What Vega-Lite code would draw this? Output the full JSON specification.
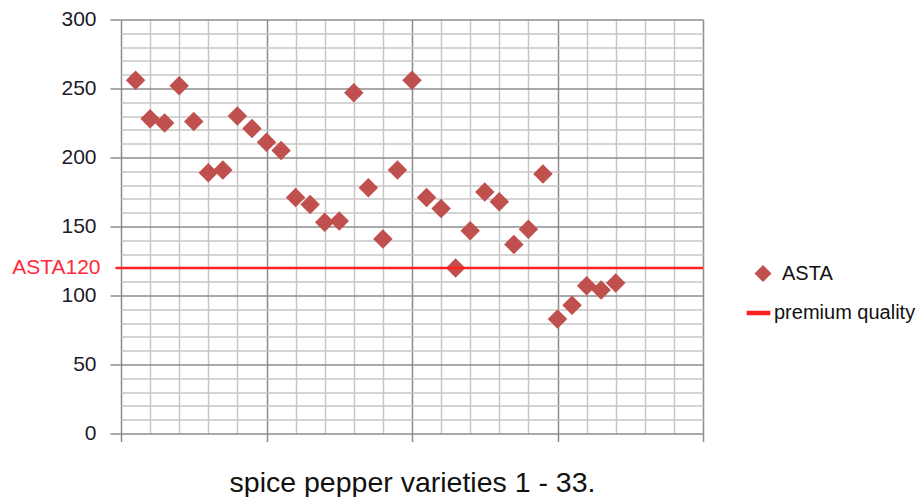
{
  "$schema": "https://vega.github.io/schema/vega-lite/v6.json",
  "width": 582,
  "height": 414,
  "autosize": {"type": "none"},
  "padding": {"left": 121, "top": 19.5, "right": 215, "bottom": 63.5},
  "background": "white",
  "config": {
    "view": {"stroke": null},
    "font": "Liberation Sans"
  },
  "resolve": {"legend": {"color": "independent", "shape": "independent"}},
  "datasets": {
    "asta": [
      {"variety": 1, "asta": 256, "series": "ASTA"},
      {"variety": 2, "asta": 228, "series": "ASTA"},
      {"variety": 3, "asta": 225, "series": "ASTA"},
      {"variety": 4, "asta": 252, "series": "ASTA"},
      {"variety": 5, "asta": 226, "series": "ASTA"},
      {"variety": 6, "asta": 189, "series": "ASTA"},
      {"variety": 7, "asta": 191, "series": "ASTA"},
      {"variety": 8, "asta": 230, "series": "ASTA"},
      {"variety": 9, "asta": 221, "series": "ASTA"},
      {"variety": 10, "asta": 211, "series": "ASTA"},
      {"variety": 11, "asta": 205, "series": "ASTA"},
      {"variety": 12, "asta": 171, "series": "ASTA"},
      {"variety": 13, "asta": 166, "series": "ASTA"},
      {"variety": 14, "asta": 153, "series": "ASTA"},
      {"variety": 15, "asta": 154, "series": "ASTA"},
      {"variety": 16, "asta": 247, "series": "ASTA"},
      {"variety": 17, "asta": 178, "series": "ASTA"},
      {"variety": 18, "asta": 141, "series": "ASTA"},
      {"variety": 19, "asta": 191, "series": "ASTA"},
      {"variety": 20, "asta": 256, "series": "ASTA"},
      {"variety": 21, "asta": 171, "series": "ASTA"},
      {"variety": 22, "asta": 163, "series": "ASTA"},
      {"variety": 23, "asta": 120, "series": "ASTA"},
      {"variety": 24, "asta": 147, "series": "ASTA"},
      {"variety": 25, "asta": 175, "series": "ASTA"},
      {"variety": 26, "asta": 168, "series": "ASTA"},
      {"variety": 27, "asta": 137, "series": "ASTA"},
      {"variety": 28, "asta": 148, "series": "ASTA"},
      {"variety": 29, "asta": 188, "series": "ASTA"},
      {"variety": 30, "asta": 83, "series": "ASTA"},
      {"variety": 31, "asta": 93, "series": "ASTA"},
      {"variety": 32, "asta": 107, "series": "ASTA"},
      {"variety": 33, "asta": 104, "series": "ASTA"},
      {"variety": 34, "asta": 109, "series": "ASTA"}
    ],
    "premium": [
      {"asta": 120, "series": "premium quality"}
    ]
  },
  "layer": [
    {
      "data": {"name": "asta"},
      "mark": {"type": "point", "shape": "diamond", "filled": true, "size": 380, "opacity": 1, "color": "#C0504D"},
      "encoding": {
        "x": {
          "field": "variety",
          "type": "quantitative",
          "scale": {"domain": [0, 40], "nice": false, "zero": false},
          "axis": {
            "values": [0, 2, 4, 6, 8, 10, 12, 14, 16, 18, 20, 22, 24, 26, 28, 30, 32, 34, 36, 38, 40],
            "tickCount": 200,
            "labels": false,
            "domain": false,
            "grid": true,
            "gridColor": {"condition": {"test": "datum.value % 10 === 0", "value": "#8c8c8c"}, "value": "#c6c6c6"},
            "gridWidth": 1.5,
            "ticks": true,
            "tickColor": {"condition": {"test": "datum.value % 10 === 0", "value": "#8c8c8c"}, "value": "transparent"},
            "tickSize": 8,
            "tickWidth": 1.5,
            "title": "spice pepper varieties 1 - 33.",
            "titleFont": "Liberation Sans",
            "titleFontSize": 28.5,
            "titleFontWeight": "normal",
            "titleColor": "#111111",
            "titlePadding": 26
          }
        },
        "y": {
          "field": "asta",
          "type": "quantitative",
          "scale": {"domain": [0, 300], "nice": false},
          "axis": {
            "values": [0, 10, 20, 30, 40, 50, 60, 70, 80, 90, 100, 110, 120, 130, 140, 150, 160, 170, 180, 190, 200, 210, 220, 230, 240, 250, 260, 270, 280, 290, 300],
            "tickCount": 200,
            "labelOverlap": false,
            "labelExpr": "datum.value % 50 === 0 ? datum.label : (datum.value === 120 ? 'ASTA120' : '')",
            "labelFont": "Liberation Sans",
            "labelFontSize": 21,
            "labelColor": {"condition": {"test": "datum.value === 120", "value": "#FF2a3a"}, "value": "#1c1c2a"},
            "labelPadding": {"condition": {"test": "datum.value === 120", "value": 15}, "value": 14},
            "domain": false,
            "grid": true,
            "gridColor": {"condition": {"test": "datum.value % 50 === 0", "value": "#8c8c8c"}, "value": "#c6c6c6"},
            "gridWidth": 1.5,
            "ticks": true,
            "tickColor": {"condition": [{"test": "datum.value % 50 === 0", "value": "#8c8c8c"}, {"test": "datum.value === 120", "value": "#FF2020"}], "value": "transparent"},
            "tickSize": {"condition": {"test": "datum.value === 120", "value": 6}, "value": 11},
            "tickWidth": {"condition": {"test": "datum.value === 120", "value": 2.5}, "value": 1.5},
            "title": null
          }
        },
        "shape": {
          "field": "series",
          "type": "nominal",
          "scale": {"domain": ["ASTA"], "range": ["diamond"]},
          "legend": {
            "orient": "none",
            "legendX": 632,
            "legendY": 244,
            "title": null,
            "labelFont": "Liberation Sans",
            "labelFontSize": 20,
            "labelColor": "#111111",
            "labelOffset": 9,
            "symbolSize": 290,
            "symbolFillColor": "#C0504D",
            "symbolStrokeWidth": 0,
            "symbolOpacity": 1
          }
        }
      }
    },
    {
      "data": {"name": "premium"},
      "mark": {"type": "rule", "strokeWidth": 2.5},
      "encoding": {
        "y": {"field": "asta", "type": "quantitative"},
        "color": {
          "field": "series",
          "type": "nominal",
          "scale": {"domain": ["premium quality"], "range": ["#FF2020"]},
          "legend": {
            "orient": "none",
            "legendX": 623,
            "legendY": 279,
            "title": null,
            "labelFont": "Liberation Sans",
            "labelFontSize": 20,
            "labelColor": "#111111",
            "labelOffset": 1,
            "symbolType": "stroke",
            "symbolSize": 560,
            "symbolStrokeWidth": 4.5,
            "symbolStrokeColor": "#FF2020"
          }
        }
      }
    }
  ]
}
